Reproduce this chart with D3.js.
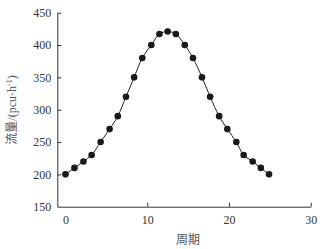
<!DOCTYPE html>
<html>
<head>
<meta charset="utf-8">
<script src="https://cdn.jsdelivr.net/npm/d3@7"></script>
<style>
  body { margin: 0; background: #fff; }
  svg { display: block; }
  .axis path, .axis line { stroke: #333; stroke-width: 1px; }
  .axis text { font-family: "Liberation Serif", "DejaVu Serif", serif; font-size: 12px; fill: #333; }
  .label { font-family: "Liberation Serif", "Noto Sans CJK SC", serif; font-size: 12px; fill: #555; }
</style>
</head>
<body>
<svg id="chart"></svg>
<script>
// data
const period = [0, 1.1, 2.2, 3.2, 4.3, 5.4, 6.4, 7.4, 8.4, 9.4, 10.5, 11.5, 12.5,
  13.5, 14.6, 15.6, 16.7, 17.7, 18.8, 19.8, 20.9, 21.8, 22.9, 23.9, 24.9];
const flow = [200, 210, 220, 230, 250, 270, 290, 320, 350, 380, 400, 417, 421,
  417, 400, 380, 350, 320, 290, 270, 250, 230, 220, 210, 200];
const xTicks = [0, 10, 20, 30];
const yTicks = [150, 200, 250, 300, 350, 400, 450];

const totalWidth = 328;
const totalHeight = 249;

const points = period.map((p, i) => ({ x: p, y: flow[i] }));

// scales
const xScale = d3.scaleLinear().domain([-1, 30]).range([57.3, 310.7]);
const yScale = d3.scaleLinear().domain([150, 450]).range([206.7, 12.7]);

const svg = d3.select("#chart")
  .attr("width", totalWidth)
  .attr("height", totalHeight);

// x axis
const xAxis = svg.append("g")
  .attr("class", "axis x-axis")
  .attr("transform", "translate(0," + yScale(150) + ")")
  .call(d3.axisBottom(xScale).tickValues(xTicks).tickSizeInner(-4).tickSizeOuter(0).tickPadding(9));
xAxis.selectAll(".tick").filter((d) => d === 0).select("line").remove();

// y axis
const yAxis = svg.append("g")
  .attr("class", "axis y-axis")
  .attr("transform", "translate(" + xScale(-1) + ",0)")
  .call(d3.axisLeft(yScale).tickValues(yTicks).tickSizeInner(-4).tickSizeOuter(0).tickPadding(6));
yAxis.selectAll(".tick").filter((d) => d === 150).select("line").remove();

// curve
const lineFunction = d3.line()
  .x((d) => xScale(d.x))
  .y((d) => yScale(d.y))
  .curve(d3.curveCatmullRom);

svg.append("path")
  .attr("d", lineFunction(points))
  .attr("fill", "none")
  .attr("stroke", "#222")
  .attr("stroke-width", 1);

svg.append("g")
  .selectAll("circle")
  .data(points)
  .enter()
  .append("circle")
  .attr("cx", (d) => xScale(d.x))
  .attr("cy", (d) => yScale(d.y))
  .attr("r", 3.3)
  .attr("fill", "#1a1a1a");

// axis titles
svg.append("text")
  .attr("class", "label")
  .attr("x", xScale(15))
  .attr("y", 244)
  .attr("text-anchor", "middle")
  .text("周期");

const yTitle = svg.append("text")
  .attr("class", "label")
  .attr("transform", "translate(16,110) rotate(-90)")
  .attr("text-anchor", "middle");
yTitle.append("tspan").text("流量/(pcu·h");
yTitle.append("tspan").attr("dy", -4).attr("font-size", 8).text("-1");
yTitle.append("tspan").attr("dy", 4).text(")");
</script>
</body>
</html>
